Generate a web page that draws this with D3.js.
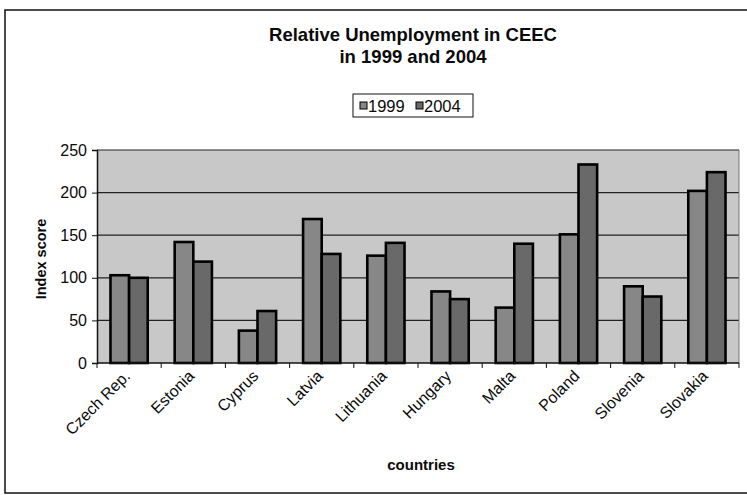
<!DOCTYPE html>
<html>
<head>
<meta charset="utf-8">
<script src="https://cdn.jsdelivr.net/npm/d3@7"></script>
<style>
  body { margin: 0; background: #fff; }
  svg { display: block; font-family: "Liberation Sans", Arial, sans-serif; }
</style>
</head>
<body>
<svg id="chart" width="747" height="495"></svg>
<script>
const countries = ["Czech Rep.", "Estonia", "Cyprus", "Latvia", "Lithuania",
  "Hungary", "Malta", "Poland", "Slovenia", "Slovakia"];
const seriesNames = ["1999", "2004"];
const values1999 = [103, 142, 38, 169, 126, 84, 65, 151, 90, 202];
const values2004 = [100, 119, 61, 128, 141, 75, 140, 233, 78, 224];
const yTicks = [0, 50, 100, 150, 200, 250];

const colors = { "1999": "#878787", "2004": "#696969" };

const svg = d3.select("#chart");
const plot = { left: 97, right: 739, top: 150, bottom: 363 };

// outer frame
svg.append("rect")
  .attr("x", 5).attr("y", 10)
  .attr("width", 760).attr("height", 483)
  .attr("fill", "#fff")
  .attr("stroke", "#111").attr("stroke-width", 1.5);

// title
const title = svg.append("text")
  .attr("text-anchor", "middle")
  .attr("font-weight", "bold")
  .attr("font-size", 18.5)
  .attr("fill", "#0a0a0a");
title.append("tspan").attr("x", 413).attr("y", 41).text("Relative Unemployment in CEEC");
title.append("tspan").attr("x", 413).attr("y", 63).text("in 1999 and 2004");

// scales
const x0 = d3.scaleBand()
  .domain(countries)
  .range([plot.left, plot.right])
  .paddingInner(0.42)
  .paddingOuter(0.21);

const x1 = d3.scaleBand()
  .domain(seriesNames)
  .range([0, x0.bandwidth()]);

const y = d3.scaleLinear()
  .domain([0, 250])
  .range([plot.bottom, plot.top]);

// plot background
svg.append("rect")
  .attr("x", plot.left).attr("y", plot.top)
  .attr("width", plot.right - plot.left)
  .attr("height", plot.bottom - plot.top)
  .attr("fill", "#c8c8c8");

// gridlines
svg.append("g")
  .selectAll("line")
  .data(yTicks.filter((d) => d > 0))
  .enter()
  .append("line")
  .attr("x1", plot.left).attr("x2", plot.right)
  .attr("y1", (d) => y(d)).attr("y2", (d) => y(d))
  .attr("stroke", "#222").attr("stroke-width", 1.2);

// right border of plot
svg.append("line")
  .attr("x1", plot.right).attr("x2", plot.right)
  .attr("y1", plot.top).attr("y2", plot.bottom)
  .attr("stroke", "#777");

// bars
const rows = countries.map((c, i) => ({ country: c, "1999": values1999[i], "2004": values2004[i] }));

svg.append("g")
  .selectAll("g")
  .data(rows)
  .enter()
  .append("g")
  .attr("transform", (d) => `translate(${x0(d.country)},0)`)
  .selectAll("rect")
  .data((d) => seriesNames.map((s) => ({ key: s, value: d[s] })))
  .enter()
  .append("rect")
  .attr("x", (d) => x1(d.key))
  .attr("y", (d) => y(d.value))
  .attr("width", x1.bandwidth())
  .attr("height", (d) => y(0) - y(d.value))
  .attr("fill", (d) => colors[d.key])
  .attr("stroke", "#000")
  .attr("stroke-width", 2.6);

// y axis
const yAxis = svg.append("g")
  .attr("transform", `translate(${plot.left},0)`)
  .call(d3.axisLeft(y).tickValues(yTicks).tickSize(5).tickPadding(5));
yAxis.select(".domain").attr("stroke", "#111").attr("stroke-width", 1.5);
yAxis.selectAll(".tick line").attr("stroke", "#111");
yAxis.selectAll("text").attr("font-size", 16).attr("fill", "#0a0a0a")
  .attr("font-family", "Liberation Sans, Arial, sans-serif");

// x axis
const xAxis = svg.append("g")
  .attr("transform", `translate(0,${plot.bottom})`);
xAxis.append("line")
  .attr("x1", plot.left).attr("x2", plot.right)
  .attr("stroke", "#111").attr("stroke-width", 1.5);
const step = x0.step();
xAxis.selectAll("line.tk")
  .data(d3.range(countries.length + 1))
  .enter()
  .append("line")
  .attr("class", "tk")
  .attr("x1", (i) => plot.left + i * step)
  .attr("x2", (i) => plot.left + i * step)
  .attr("y1", 0).attr("y2", 5)
  .attr("stroke", "#111");

xAxis.selectAll("text")
  .data(countries)
  .enter()
  .append("text")
  .attr("text-anchor", "end")
  .attr("font-size", 16)
  .attr("fill", "#0a0a0a")
  .attr("transform", (d) => {
    const cx = x0(d) + x0.bandwidth() / 2 + 2;
    return `translate(${cx},14) rotate(-45)`;
  })
  .text((d) => d);

// axis titles
svg.append("text")
  .attr("transform", "translate(46,259) rotate(-90)")
  .attr("text-anchor", "middle")
  .attr("font-weight", "bold")
  .attr("font-size", 14.5)
  .attr("fill", "#0a0a0a")
  .text("Index score");

svg.append("text")
  .attr("x", 421).attr("y", 470)
  .attr("text-anchor", "middle")
  .attr("font-weight", "bold")
  .attr("font-size", 15)
  .attr("fill", "#0a0a0a")
  .text("countries");

// legend
const legend = svg.append("g").attr("transform", "translate(353,94)");
legend.append("rect")
  .attr("width", 120).attr("height", 23)
  .attr("fill", "#fff").attr("stroke", "#111");
const li = legend.selectAll("g")
  .data(seriesNames)
  .enter()
  .append("g")
  .attr("transform", (d, i) => `translate(${7 + i * 56},0)`);
li.append("rect")
  .attr("y", 8).attr("width", 7).attr("height", 7)
  .attr("fill", (d) => colors[d]).attr("stroke", "#000");
li.append("text")
  .attr("x", 8).attr("y", 18)
  .attr("font-size", 16.5)
  .attr("fill", "#0a0a0a")
  .text((d) => d);
</script>
</body>
</html>
